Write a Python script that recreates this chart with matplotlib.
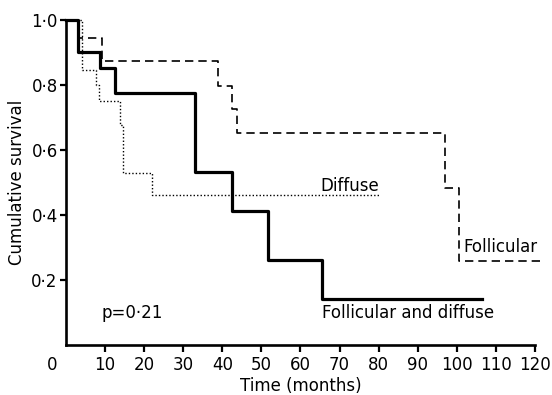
import matplotlib
matplotlib.use("Agg")
import matplotlib.pyplot as plt

# survival curves (months, cumulative survival)
months_fd = [0, 3.0, 8.8, 12.5, 33.0, 42.5, 51.7, 65.5, 106.5]
surv_fd = [1.0, 0.90, 0.852, 0.775, 0.533, 0.413, 0.26, 0.14, 0.14]

months_fol = [0, 3.3, 9.2, 39.0, 42.4, 43.8, 97.0, 100.5, 121.5]
surv_fol = [1.0, 0.945, 0.874, 0.797, 0.726, 0.652, 0.483, 0.258, 0.258]

months_dif = [0, 4.1, 7.7, 8.5, 13.8, 14.6, 22.0, 80.3]
surv_dif = [1.0, 0.846, 0.80, 0.75, 0.677, 0.53, 0.46, 0.46]

xticks = [10, 20, 30, 40, 50, 60, 70, 80, 90, 100, 110, 120]
yticks = [0.2, 0.4, 0.6, 0.8, 1.0]
ytick_labels = ["0·2", "0·4", "0·6", "0·8", "1·0"]

fig = plt.figure(figsize=(5.52, 3.95), dpi=100)
ax = fig.add_axes([0.1196, 0.1266, 0.8494, 0.8228])

ax.step(months_fd, surv_fd, where="post", color="black", lw=2.3, clip_on=False)
ax.step(months_fol, surv_fol, where="post", color="black", lw=1.2,
        linestyle=(0, (5, 3)), clip_on=False)
ax.step(months_dif, surv_dif, where="post", color="black", lw=1.0,
        linestyle=(0, (1, 1.5)), clip_on=False)

ax.set_xlim(0, 120)
ax.set_ylim(0, 1.0)
ax.spines[["top", "right"]].set_visible(False)
ax.spines[["left", "bottom"]].set_linewidth(1.9)

ax.set_xticks(xticks)
ax.set_yticks(yticks)
ax.set_yticklabels(ytick_labels)
ax.tick_params(axis="both", direction="out", width=1.6, labelsize=12)
ax.tick_params(axis="x", length=5, pad=3)
ax.tick_params(axis="y", length=4, pad=2)

ax.text(-3.6, -0.062, "0", ha="center", va="center", fontsize=12, clip_on=False)

ax.set_xlabel("Time (months)", fontsize=12, labelpad=2)
ax.set_ylabel("Cumulative survival", fontsize=12, labelpad=4)

ax.text(65, 0.49, "Diffuse", ha="left", va="center", fontsize=12)
ax.text(101.8, 0.30, "Follicular", ha="left", va="center", fontsize=12)
ax.text(65.5, 0.098, "Follicular and diffuse", ha="left", va="center", fontsize=12)
ax.text(9.2, 0.098, "p=0·21", ha="left", va="center", fontsize=12)

fig.savefig("out.png", dpi=100)
